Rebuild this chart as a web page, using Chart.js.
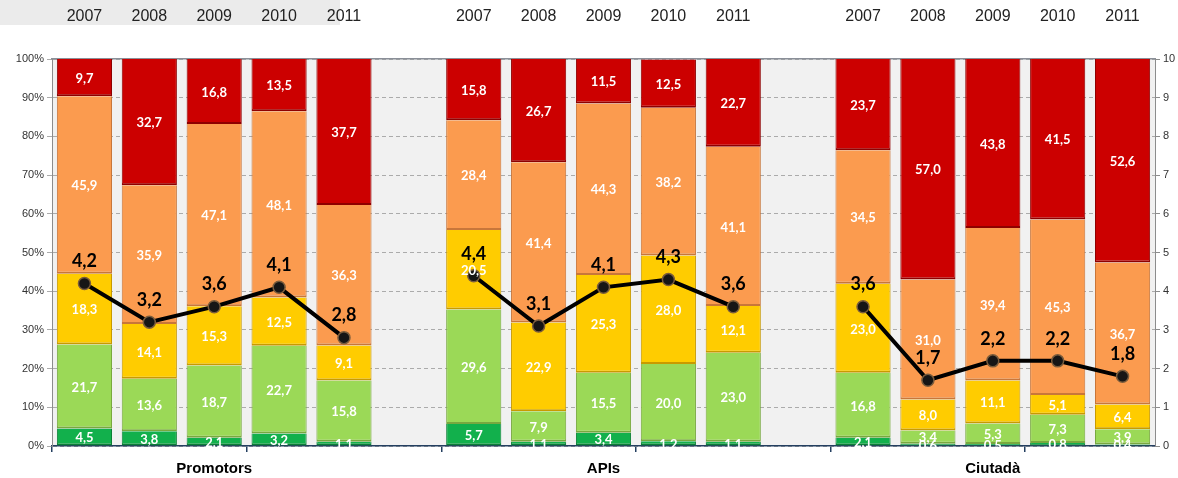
<!DOCTYPE html>
<html>
<head>
<meta charset="utf-8">
<script src="https://cdn.jsdelivr.net/npm/chart.js@4.4.1/dist/chart.umd.min.js"></script>
<style>
  html, body { margin: 0; padding: 0; background: #ffffff; }
  #wrap { width: 1178px; height: 478px; position: relative; }
</style>
</head>
<body>
<div id="wrap"><canvas id="c" width="1178" height="478"></canvas></div>
<script>
// ---- data ----
const years = ['2007', '2008', '2009', '2010', '2011'];
const groups = ['Promotors', 'APIs', 'Ciutadà'];
// order of values: Promotors 2007-2011, APIs 2007-2011, Ciutadà 2007-2011
const darkGreen  = [4.5, 3.8, 2.1, 3.2, 1.1,   5.7, 1.1, 3.4, 1.2, 1.1,   2.1, 0.6, 0.5, 0.8, 0.4];
const lightGreen = [21.7, 13.6, 18.7, 22.7, 15.8,   29.6, 7.9, 15.5, 20.0, 23.0,   16.8, 3.4, 5.3, 7.3, 3.9];
const yellow     = [18.3, 14.1, 15.3, 12.5, 9.1,   20.5, 22.9, 25.3, 28.0, 12.1,   23.0, 8.0, 11.1, 5.1, 6.4];
const orange     = [45.9, 35.9, 47.1, 48.1, 36.3,   28.4, 41.4, 44.3, 38.2, 41.1,   34.5, 31.0, 39.4, 45.3, 36.7];
const red        = [9.7, 32.7, 16.8, 13.5, 37.7,   15.8, 26.7, 11.5, 12.5, 22.7,   23.7, 57.0, 43.8, 41.5, 52.6];
const average    = [4.2, 3.2, 3.6, 4.1, 2.8,   4.4, 3.1, 4.1, 4.3, 3.6,   3.6, 1.7, 2.2, 2.2, 1.8];
const pctTicks = [0, 10, 20, 30, 40, 50, 60, 70, 80, 90, 100];
const scoreTicks = [0, 1, 2, 3, 4, 5, 6, 7, 8, 9, 10];

// ---- build slot layout: 5 years, empty slot, 5 years, empty slot, 5 years ----
function slots(arr) {
  return [...arr.slice(0, 5), null, ...arr.slice(5, 10), null, ...arr.slice(10, 15)];
}
const topLabels = [...years, '', ...years, '', ...years];
const xLabels = topLabels.map((l, i) => String(i));
const groupAt = { 2: groups[0], 8: groups[1], 14: groups[2] };

const fmt = v => v.toFixed(1).replace('.', ',');

const plotBg = {
  id: 'plotBg',
  beforeDraw(chart) {
    const { ctx, chartArea: a } = chart;
    ctx.save();
    ctx.fillStyle = '#ebebeb';
    ctx.fillRect(0, 0, 340, 25);
    ctx.fillStyle = '#f1f1f1';
    ctx.fillRect(a.left, a.top, a.right - a.left, a.bottom - a.top);
    ctx.restore();
  }
};

const valueLabels = {
  id: 'valueLabels',
  afterDatasetsDraw(chart) {
    const ctx = chart.ctx;
    ctx.save();
    ctx.textAlign = 'center';
    ctx.textBaseline = 'middle';
    chart.data.datasets.forEach((ds, di) => {
      if (ds.type === 'line') return;
      const meta = chart.getDatasetMeta(di);
      ctx.font = 'bold 13px Lato, "Liberation Sans", sans-serif';
      ctx.fillStyle = '#ffffff';
      meta.data.forEach((el, i) => {
        const v = ds.data[i];
        if (v == null) return;
        const y = (el.y + el.base) / 2;
        ctx.fillText(fmt(v), el.x, y + 1);
      });
    });
    chart.data.datasets.forEach((ds, di) => {
      if (ds.type !== 'line') return;
      const meta = chart.getDatasetMeta(di);
      ctx.font = 'bold 18px Lato, "Liberation Sans", sans-serif';
      ctx.fillStyle = '#000000';
      meta.data.forEach((el, i) => {
        const v = ds.data[i];
        if (v == null) return;
        ctx.fillText(fmt(v), el.x, el.y - 22);
      });
    });
    ctx.restore();
  }
};

function barSet(label, values, color, edge) {
  return {
    type: 'bar',
    label: label,
    data: slots(values),
    backgroundColor: color,
    borderColor: edge,
    borderWidth: { top: 0, bottom: 2, left: 1, right: 1 },
    borderSkipped: false,
    xAxisID: 'x',
    yAxisID: 'y',
    stack: 's',
    order: 2,
    barPercentage: 0.85,
    categoryPercentage: 1.0
  };
}

new Chart(document.getElementById('c'), {
  data: {
    labels: xLabels,
    datasets: [
      {
        type: 'line',
        label: 'Mitjana',
        data: slots(average),
        borderColor: '#000000',
        borderWidth: 4,
        pointRadius: 6,
        pointBackgroundColor: '#161616',
        pointBorderColor: '#7a5c3c',
        pointBorderWidth: 1.5,
        spanGaps: false,
        xAxisID: 'x',
        yAxisID: 'y1',
        order: 0
      },
      barSet('1', darkGreen, '#12b04c', '#0c7f36'),
      barSet('2', lightGreen, '#9bd957', '#78a83f'),
      barSet('3', yellow, '#ffcc00', '#c89a00'),
      barSet('4', orange, '#fb9b4f', '#c8763a'),
      barSet('5', red, '#cc0000', '#8e0000')
    ]
  },
  options: {
    responsive: false,
    devicePixelRatio: 1,
    animation: false,
    layout: { padding: 0 },
    plugins: {
      legend: { display: false },
      tooltip: { enabled: false }
    },
    scales: {
      x: {
        type: 'category',
        position: 'bottom',
        offset: true,
        afterFit: s => { s.height = 32; },
        grid: {
          display: true,
          offset: true,
          drawOnChartArea: false,
          drawTicks: true,
          tickLength: 6,
          color: c => (c.index % 3 === 0 ? '#243f60' : 'rgba(0,0,0,0)'),
          lineWidth: 1.5
        },
        border: { display: true, color: '#243f60', width: 1.5 },
        ticks: {
          autoSkip: false,
          maxRotation: 0,
          padding: 8,
          color: '#000000',
          font: { family: '"Liberation Sans", Arial, sans-serif', size: 15, weight: 'bold' },
          callback: (v, i) => groupAt[i] || ''
        }
      },
      xTop: {
        type: 'category',
        position: 'top',
        labels: topLabels,
        offset: true,
        afterFit: s => { s.height = 59; },
        grid: { display: false, drawTicks: false },
        border: { display: true, color: '#8a8f98', width: 1.5 },
        ticks: {
          autoSkip: false,
          maxRotation: 0,
          padding: 33,
          color: '#222222',
          font: { family: '"Liberation Sans", Arial, sans-serif', size: 16 }
        }
      },
      y: {
        type: 'linear',
        position: 'left',
        stacked: true,
        min: 0,
        max: 100,
        afterFit: s => { s.width = 52; },
        afterBuildTicks: s => { s.ticks = pctTicks.map(v => ({ value: v })); },
        grid: {
          color: '#ababab',
          tickLength: 5,
          drawTicks: true
        },
        border: { display: true, color: '#8c8c8c', width: 1, dash: [4, 3] },
        ticks: {
          padding: 3,
          color: '#333333',
          font: { family: '"Liberation Sans", Arial, sans-serif', size: 11 },
          callback: v => v + '%'
        }
      },
      y1: {
        type: 'linear',
        position: 'right',
        min: 0,
        max: 10,
        afterFit: s => { s.width = 23; },
        afterBuildTicks: s => { s.ticks = scoreTicks.map(v => ({ value: v })); },
        grid: { drawOnChartArea: false, drawTicks: true, tickLength: 5, color: '#8c8c8c' },
        border: { display: true, color: '#8c8c8c', width: 1 },
        ticks: {
          padding: 3,
          color: '#333333',
          font: { family: '"Liberation Sans", Arial, sans-serif', size: 11 }
        }
      }
    }
  },
  plugins: [plotBg, valueLabels]
});
</script>
</body>
</html>
